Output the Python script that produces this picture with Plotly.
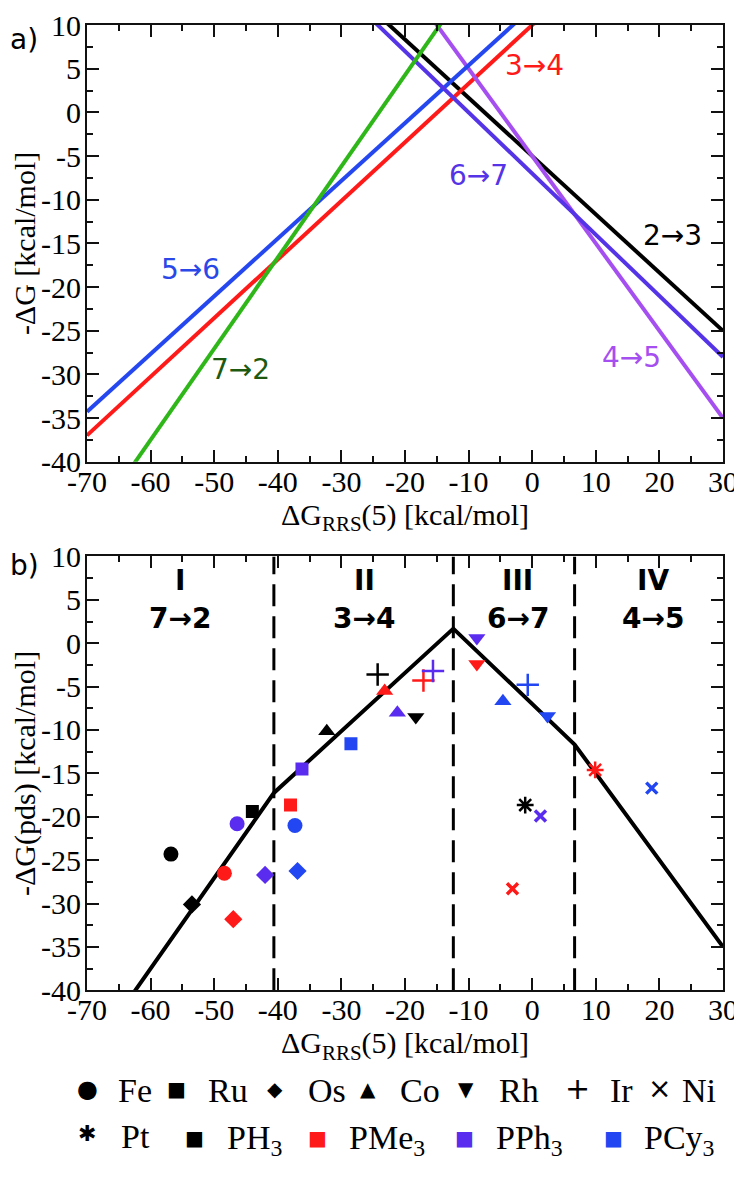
import numpy as np
import plotly.graph_objects as go

# ---------------- data ----------------
# panel a: -dG = slope * dG_RRS(5) + intercept for each step
step_names = ["2→3", "3→4", "4→5", "5→6", "6→7", "7→2"]
step_slopes = [-0.667, 0.671, -1.0, 0.661, -0.70, 1.044]
step_intercepts = [-5.0, 10.0, -5.0, 12.0, -7.0, 25.15]
step_label_x = [22.0, 0.4, 15.6, -53.8, -8.4, -45.9]
step_label_y = [-14.1, 5.4, -28.0, -18.0, -7.2, -29.4]

# panel b: regions (which step is potential-determining)
region_roman = ["I", "II", "III", "IV"]
region_steps = ["7→2", "3→4", "6→7", "4→5"]
region_label_x = [-55.4, -26.4, -2.3, 19.0]

# panel b: complexes
metals = ["Fe", "Fe", "Fe", "Fe",
          "Ru", "Ru", "Ru", "Ru",
          "Os", "Os", "Os", "Os",
          "Co", "Co", "Co", "Co",
          "Rh", "Rh", "Rh", "Rh",
          "Ir", "Ir", "Ir", "Ir",
          "Ni", "Ni", "Ni",
          "Pt", "Pt"]
ligands = ["PH3", "PMe3", "PPh3", "PCy3",
           "PH3", "PMe3", "PPh3", "PCy3",
           "PH3", "PMe3", "PPh3", "PCy3",
           "PH3", "PMe3", "PPh3", "PCy3",
           "PH3", "PMe3", "PPh3", "PCy3",
           "PH3", "PMe3", "PPh3", "PCy3",
           "PMe3", "PPh3", "PCy3",
           "PH3", "PMe3"]
dg_rrs = [-56.8, -48.4, -46.4, -37.3,
          -44.0, -38.0, -36.2, -28.5,
          -53.5, -47.0, -42.0, -36.9,
          -32.3, -23.2, -21.2, -4.6,
          -18.3, -8.7, -8.7, 2.4,
          -24.3, -17.1, -15.6, -0.7,
          -3.1, 1.3, 18.8,
          -1.1, 9.9]
dg_pds = [-24.3, -26.5, -20.8, -21.0,
          -19.4, -18.65, -14.5, -11.6,
          -30.1, -31.8, -26.7, -26.25,
          -10.15, -5.5, -8.0, -6.7,
          -8.5, -2.4, 0.6, -8.4,
          -3.6, -4.3, -3.2, -4.8,
          -28.3, -19.9, -16.7,
          -18.65, -14.6]

metal_order = ["Fe", "Ru", "Os", "Co", "Rh", "Ir", "Ni", "Pt"]
ligand_order = ["PH3", "PMe3", "PPh3", "PCy3"]
ligand_labels = ["PH<sub>3</sub>", "PMe<sub>3</sub>", "PPh<sub>3</sub>", "PCy<sub>3</sub>"]

# tick labels (plain hyphen minus, as in the original)
x_tickvals = [-70, -60, -50, -40, -30, -20, -10, 0, 10, 20, 30]
x_ticktext = ["-70", "-60", "-50", "-40", "-30", "-20", "-10", "0", "10", "20", "30"]
y_tickvals = [-40, -35, -30, -25, -20, -15, -10, -5, 0, 5, 10]
y_ticktext = ["-40", "-35", "-30", "-25", "-20", "-15", "-10", "-5", "0", "5", "10"]

# ---------------- styles ----------------
step_colors = ["#000000", "#ff1a1a", "#a64ff0", "#2447f0", "#5533e6", "#2fb71a"]
step_label_colors = ["#000000", "#ff1a1a", "#a64ff0", "#2a48e8", "#5533e6", "#1d5a10"]
ligand_colors = {"PH3": "#000000", "PMe3": "#ff1a1a", "PPh3": "#5a2cf0", "PCy3": "#2247f2"}
metal_symbols = {"Fe": "circle", "Ru": "square", "Os": "diamond", "Co": "triangle-up",
                 "Rh": "triangle-down", "Ir": "cross-thin", "Ni": "x-thin", "Pt": "asterisk"}
metal_sizes = {"Fe": 15, "Ru": 13, "Os": 14, "Co": 15, "Rh": 15, "Ir": 16, "Ni": 11, "Pt": 14}
metal_glyphs = {"Fe": "●", "Ru": "■", "Os": "◆", "Co": "▲", "Rh": "▼", "Ir": "+", "Ni": "×", "Pt": "✱"}

# the page body has an 8px default margin: size the figure so that it fits the window
OFF = 8
W, H = 742 - OFF, 1185 - 2 * OFF
PL, PR = 87, 723          # plot area, page pixels
ML, MR, MT, MB = PL - OFF, W - (PR - OFF), 13 - OFF, 0
PW = W - ML - MR
PH = H - MT - MB


def fx(px):
    return (px - OFF - ML) / PW


def fy(py):
    return (H - MB - (py - OFF)) / PH


SERIF = "Liberation Serif"
SANS = "DejaVu Sans"

fig = go.Figure()

xgrid = np.array([-70.0, 30.0])

# ---- panel a lines ----
for name, m, b, c in zip(step_names, step_slopes, step_intercepts, step_colors):
    fig.add_trace(go.Scatter(x=xgrid, y=m * xgrid + b, mode="lines",
                             line=dict(color=c, width=4), name=name,
                             showlegend=False, xaxis="x", yaxis="y"))

# ---- panel b envelope (lowest -dG line) ----
env_idx = [step_names.index(s) for s in region_steps]
bounds = []
for i in range(len(env_idx) - 1):
    a, c = env_idx[i], env_idx[i + 1]
    xb = (step_intercepts[c] - step_intercepts[a]) / (step_slopes[a] - step_slopes[c])
    bounds.append(xb)
env_x = np.array([-70.0] + bounds + [30.0])
env_y = np.min([step_slopes[k] * env_x + step_intercepts[k] for k in env_idx], axis=0)
fig.add_trace(go.Scatter(x=env_x, y=env_y, mode="lines", line=dict(color="black", width=4),
                         showlegend=False, xaxis="x2", yaxis="y2"))

for xb in bounds:
    fig.add_trace(go.Scatter(x=[xb, xb], y=[-40, 10], mode="lines",
                             line=dict(color="black", width=3, dash="22px,10px"),
                             showlegend=False, xaxis="x2", yaxis="y2"))

# ---- panel b markers ----
for metal in metal_order:
    idx = [i for i, mm in enumerate(metals) if mm == metal]
    cols = [ligand_colors[ligands[i]] for i in idx]
    sym = metal_symbols[metal]
    lw = {"cross-thin": 2.5, "x-thin": 3.5, "asterisk": 2.5}.get(sym, 0)
    fig.add_trace(go.Scatter(
        x=[dg_rrs[i] for i in idx], y=[dg_pds[i] for i in idx], mode="markers",
        marker=dict(symbol=sym, size=metal_sizes[metal], color=cols,
                    line=dict(color=cols, width=lw)),
        name=metal, showlegend=False, xaxis="x2", yaxis="y2"))

# ---------------- axes ----------------
tickfont = dict(family=SERIF, size=30, color="black")
titlefont = dict(family=SERIF, size=30, color="black")


def xax(anchor):
    return dict(range=[-70, 30], tickmode="array", tickvals=x_tickvals, ticktext=x_ticktext,
                ticks="inside", ticklen=12, ticklabelstandoff=-8,
                tickwidth=2, tickcolor="#111", showline=True, linewidth=2, linecolor="#111",
                mirror="ticks", showgrid=False, zeroline=False, tickfont=tickfont,
                minor=dict(tickmode="linear", tick0=-70, dtick=5, ticks="inside", ticklen=6,
                           tickwidth=2, tickcolor="#111", showgrid=False),
                title=dict(text="ΔG<sub>RRS</sub>(5) [kcal/mol]", font=titlefont, standoff=2),
                anchor=anchor, domain=[0, 1])


def yax(domain, title, anchor):
    return dict(range=[-40, 10], tickmode="array", tickvals=y_tickvals, ticktext=y_ticktext,
                ticks="inside", ticklen=12, ticklabelstandoff=-2,
                tickwidth=2, tickcolor="#111", showline=True, linewidth=2, linecolor="#111",
                mirror="ticks", showgrid=False, zeroline=False, tickfont=tickfont,
                minor=dict(tickmode="linear", tick0=-40, dtick=2.5, ticks="inside", ticklen=6,
                           tickwidth=2, tickcolor="#111", showgrid=False),
                title=dict(text=title, font=titlefont, standoff=2),
                anchor=anchor, domain=domain)


fig.update_layout(
    width=W, height=H, margin=dict(l=ML, r=MR, t=MT, b=MB),
    paper_bgcolor="white", plot_bgcolor="white", showlegend=False,
    xaxis=xax("y"),
    yaxis=yax([fy(461), fy(13)], "-ΔG [kcal/mol]", "x"),
    xaxis2=xax("y2"),
    yaxis2=yax([fy(1003), fy(558)], "-ΔG(pds) [kcal/mol]", "x2"),
)

ann = []
# panel a step labels
for name, lx, ly, c in zip(step_names, step_label_x, step_label_y, step_label_colors):
    ann.append(dict(x=lx, y=ly, xref="x", yref="y", text=name, showarrow=False,
                    font=dict(family=SANS, size=28, color=c)))
# panel b region labels
for rom, st, lx in zip(region_roman, region_steps, region_label_x):
    ann.append(dict(x=lx, y=7.2, xref="x2", yref="y2", text="<b>%s</b>" % rom, showarrow=False,
                    font=dict(family=SANS, size=28, color="black")))
    ann.append(dict(x=lx, y=2.8, xref="x2", yref="y2", text="<b>%s</b>" % st, showarrow=False,
                    font=dict(family=SANS, size=28, color="black")))
# panel tags
ann.append(dict(x=fx(OFF), y=fy(28), xref="paper", yref="paper", text="a)", showarrow=False,
                xanchor="left", yanchor="middle", font=dict(family=SANS, size=28, color="black")))
ann.append(dict(x=fx(OFF), y=fy(567), xref="paper", yref="paper", text="b)", showarrow=False,
                xanchor="left", yanchor="middle", font=dict(family=SANS, size=28, color="black")))

# legend rows (symbols + text)
row1_metals = ["Fe", "Ru", "Os", "Co", "Rh", "Ir", "Ni"]
row1_gx = [87, 176, 275, 368, 466, 577, 659]
row1_tx = [116, 206, 306, 398, 497, 608, 680]
for mt, gx, tx in zip(row1_metals, row1_gx, row1_tx):
    gsize = {"Fe": 24, "Ru": 20, "Os": 20, "Co": 20, "Rh": 20, "Ir": 30, "Ni": 28}[mt]
    ann.append(dict(x=fx(gx), y=fy(1104), xref="paper", yref="paper", text=metal_glyphs[mt],
                    showarrow=False, xanchor="center", yanchor="middle",
                    font=dict(family=SANS, size=gsize, color="black")))
    ann.append(dict(x=fx(tx), y=fy(1106), xref="paper", yref="paper", text=mt,
                    showarrow=False, xanchor="left", yanchor="middle",
                    font=dict(family=SERIF, size=34, color="black")))
# row 2: Pt + ligands
ann.append(dict(x=fx(87), y=fy(1150), xref="paper", yref="paper", text=metal_glyphs["Pt"],
                showarrow=False, xanchor="center", yanchor="middle",
                font=dict(family=SANS, size=22, color="black")))
ann.append(dict(x=fx(119), y=fy(1153), xref="paper", yref="paper", text="Pt",
                showarrow=False, xanchor="left", yanchor="middle",
                font=dict(family=SERIF, size=34, color="black")))
row2_gx = [194, 317, 464, 613]
row2_tx = [225, 347, 494, 642]
for lg, lab, gx, tx in zip(ligand_order, ligand_labels, row2_gx, row2_tx):
    ann.append(dict(x=fx(gx), y=fy(1154), xref="paper", yref="paper", text="■",
                    showarrow=False, xanchor="center", yanchor="middle",
                    font=dict(family=SANS, size=20, color=ligand_colors[lg])))
    ann.append(dict(x=fx(tx), y=fy(1156), xref="paper", yref="paper", text=lab,
                    showarrow=False, xanchor="left", yanchor="middle",
                    font=dict(family=SERIF, size=34, color="black")))

fig.update_layout(annotations=ann)
fig.write_html("out.html")
